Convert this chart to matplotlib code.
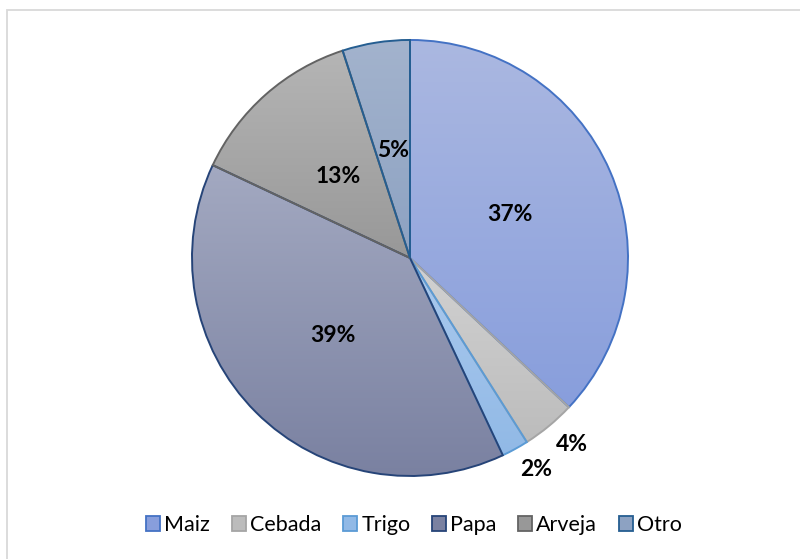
import numpy as np
import matplotlib
matplotlib.use("Agg")
from matplotlib import pyplot as plt
from matplotlib.colors import LinearSegmentedColormap
from matplotlib.patches import Rectangle

cultivos = ["Maiz", "Cebada", "Trigo", "Papa", "Arveja", "Otro"]
porcentajes = [37, 4, 2, 39, 13, 5]

# gradient top / bottom and border colour for every slice
col_top = ["#abb8e1", "#d2d2d2", "#abcaee", "#a3a9c1", "#b5b5b5", "#a3b3cd"]
col_bot = ["#889edc", "#bcbcbc", "#91b9e6", "#7a81a1", "#989898", "#8da2c2"]
col_edge = ["#4472c4", "#a5a5a5", "#5b9bd5", "#264478", "#636363", "#255e91"]

plt.rcParams['font.family'] = ['Lato', 'DejaVu Sans']

fig = plt.figure(figsize=(8.0, 5.59), dpi=100)
# chart frame, right and bottom edges fall outside the picture
fig.patches.append(Rectangle((7 / 800, -0.2), 1.2, 1.2 - 10 / 559, transform=fig.transFigure,
                             fill=False, edgecolor="#d9d9d9", lw=1.3))

ax = fig.add_axes([0.24, 0.1485, 0.545, 0.78])
wedges, texts, autotexts = ax.pie(
    porcentajes, startangle=90, counterclock=False, radius=1,
    autopct="%1.0f%%", pctdistance=0.5,
    wedgeprops=dict(facecolor="none", linewidth=1.4),
    textprops=dict(fontsize=16.5, fontweight="bold", color="black"))

for i, w in enumerate(wedges):
    w.set_edgecolor(col_edge[i])
    w.set_zorder(3)
    bb = w.get_path().get_extents()
    cmap = LinearSegmentedColormap.from_list("g%d" % i, [col_bot[i], col_top[i]])
    grad = np.linspace(0, 1, 256).reshape(-1, 1)
    im = ax.imshow(grad, cmap=cmap, origin="lower", aspect="auto",
                   extent=(bb.x0, bb.x1, bb.y0, bb.y1), zorder=1, interpolation="bilinear")
    im.set_clip_path(w)

# small slices get their labels outside the pie
for i, t in enumerate(autotexts):
    t.set_zorder(5)
    if porcentajes[i] < 5:
        w = wedges[i]
        ang = np.deg2rad((w.theta1 + w.theta2) / 2)
        t.set_position((1.05 * np.cos(ang), 1.05 * np.sin(ang)))
        t.set_ha("left")
        t.set_va("top")

ax.set_xlim(-1, 1)
ax.set_ylim(-1, 1)

handles = [Rectangle((0, 0), 1, 1, facecolor=col_bot[i], edgecolor=col_edge[i], lw=1.3)
           for i in range(len(cultivos))]
fig.legend(handles, cultivos, loc="center", bbox_to_anchor=(0.5175, 1 - 525 / 559),
           ncol=6, frameon=False, fontsize=15.5, handlelength=0.65, handleheight=0.65,
           handletextpad=0.2, columnspacing=1.0)

fig.savefig("out.png", dpi=100)
